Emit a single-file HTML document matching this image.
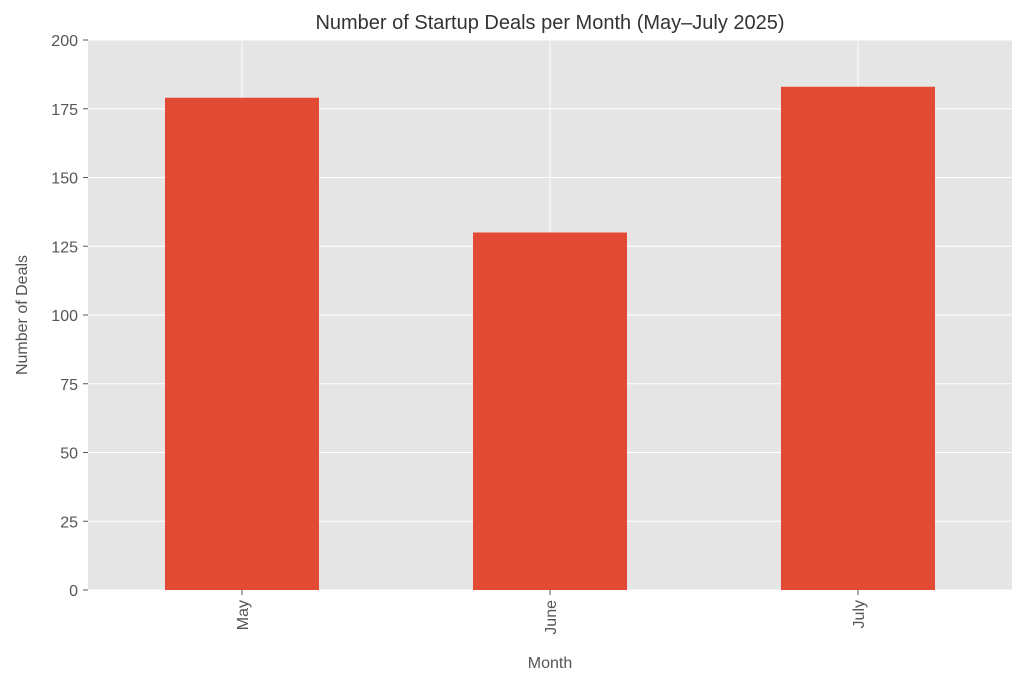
<!DOCTYPE html>
<html><head><meta charset="utf-8"><style>
body{margin:0;background:#fff;}
svg text{font-family:"Liberation Sans","DejaVu Sans",sans-serif;}
</style></head><body>
<svg id="chart" width="1024" height="684" xmlns="http://www.w3.org/2000/svg">
<rect x="0" y="0" width="1024" height="684" fill="#fff"/>
<rect x="88" y="40" width="924" height="550" fill="#e5e5e5"/>
<g id="grid"></g><g id="bars"></g><g id="axes"></g>
<text x="550" y="29" font-size="20" fill="#333" text-anchor="middle">Number of Startup Deals per Month (May–July 2025)</text>
<text x="550" y="668" font-size="16" fill="#555" text-anchor="middle">Month</text>
<text transform="translate(27,315) rotate(-90)" font-size="16" fill="#555" text-anchor="middle">Number of Deals</text>
</svg>
<script>
const categories=["May","June","July"];
const values=[179,130,183];
const yTicks=[0,25,50,75,100,125,150,175,200];
const NS="http://www.w3.org/2000/svg";
const L=88,R=1012,T=40,B=590,yMax=200;
const y=v=>B-(v/yMax)*(B-T);
const step=(R-L)/categories.length;
const xc=i=>L+step*(i+0.5);
function mk(tag,attrs,parent,text){const e=document.createElementNS(NS,tag);for(const k in attrs)e.setAttribute(k,attrs[k]);if(text!==undefined)e.textContent=text;document.getElementById(parent).appendChild(e);return e;}
yTicks.forEach(t=>{
 const g=mk("line",{x1:L,x2:R,y1:y(t),y2:y(t),stroke:"#fff","stroke-width":1},"grid");
 
 
 const tk=mk("line",{x1:L-5,x2:L,y1:y(t),y2:y(t),stroke:"#555","stroke-width":1},"axes");
 
 
 const lb=mk("text",{x:L-10,y:y(t)+6,"font-size":16,fill:"#555","text-anchor":"end"},"axes",t);
 
 
});
categories.forEach((c,i)=>{
 const g=mk("line",{x1:xc(i),x2:xc(i),y1:T,y2:B,stroke:"#fff","stroke-width":1},"grid");
 
 
 const w=step*0.5;
 const b=mk("rect",{x:xc(i)-w/2,y:y(values[i]),width:w,height:B-y(values[i]),fill:"#e24a33"},"bars");
 
 
 const tk=mk("line",{x1:xc(i),x2:xc(i),y1:B,y2:B+5,stroke:"#555","stroke-width":1},"axes");
 
 
 const lb=mk("text",{transform:`translate(${xc(i)+6},${B+10}) rotate(-90)`,"font-size":16,fill:"#555","text-anchor":"end"},"axes",c);
 
 
});
</script>
</body></html>
